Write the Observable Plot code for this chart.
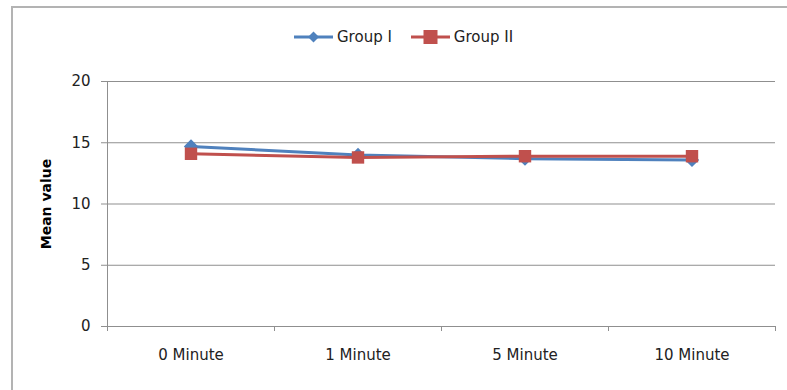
<!DOCTYPE html>
<html>
<head>
<meta charset="utf-8">
<script src="https://cdn.jsdelivr.net/npm/d3@7"></script>
<script src="https://cdn.jsdelivr.net/npm/@observablehq/plot@0.6"></script>
<style>
  html, body { margin: 0; padding: 0; background: #fff; }
  #chart { position: relative; width: 787px; height: 390px; overflow: hidden; font-family: "DejaVu Sans", sans-serif; }
  #frame { position: absolute; left: 11px; top: 6px; width: 790px; height: 400px; border-left: 2px solid #b3b3b3; border-top: 2px solid #b3b3b3; box-sizing: border-box; }
  #legend { position: relative; height: 60px; display: flex; justify-content: flex-start; align-items: center; padding-top: 14px; padding-left: 294px; box-sizing: border-box; font-size: 15px; color: #222; }
  #legend .item { display: flex; align-items: center; gap: 4px; margin-right: 19px; }
  #plot { position: relative; }
</style>
</head>
<body>
<div id="chart">
  <div id="frame"></div>
  <div id="legend"></div>
  <div id="plot"></div>
</div>
<script>
// Mean values at each time point
const categories = ["0 Minute", "1 Minute", "5 Minute", "10 Minute"];
const groupI = [14.7, 14.0, 13.7, 13.6];
const groupII = [14.1, 13.8, 13.9, 13.9];
const yTicks = [0, 5, 10, 15, 20];
const seriesNames = ["Group I", "Group II"];
const seriesColors = ["#4f81bd", "#c0504d"];

// long-format rows; x is the band centre (index + 0.5) on a 0..n scale
const rows = categories.flatMap((c, i) => [
  {x: i + 0.5, y: groupI[i], series: seriesNames[0]},
  {x: i + 0.5, y: groupII[i], series: seriesNames[1]}
]);
const bandEdges = d3.range(categories.length + 1);
const bandCenters = categories.map((c, i) => i + 0.5);

// legend
const legend = document.getElementById("legend");
seriesNames.forEach((name, k) => {
  const item = document.createElement("div");
  item.className = "item";
  const sw = k === 0
    ? `<svg width="39" height="16"><line x1="0" y1="8" x2="39" y2="8" stroke="${seriesColors[k]}" stroke-width="3"/><path d="M19.5 2.5 L25 8 L19.5 13.5 L14 8 Z" fill="${seriesColors[k]}"/></svg>`
    : `<svg width="39" height="16"><line x1="0" y1="8" x2="39" y2="8" stroke="${seriesColors[k]}" stroke-width="3"/><rect x="12.5" y="1" width="14" height="14" fill="${seriesColors[k]}"/></svg>`;
  item.innerHTML = sw + `<span>${name}</span>`;
  legend.appendChild(item);
});

const gridColor = "#8f8f8f";
const textColor = "#222";

const chart = Plot.plot({
  width: 787,
  height: 330,
  marginLeft: 107,
  marginRight: 12,
  marginTop: 21,
  marginBottom: 64,
  style: {fontFamily: "DejaVu Sans, sans-serif", fontSize: "15px", color: textColor, background: "transparent"},
  x: {domain: [0, categories.length]},
  y: {domain: [0, 20]},
  marks: [
    Plot.gridY(yTicks, {stroke: gridColor, strokeOpacity: 1, strokeWidth: 1}),
    Plot.ruleX([0], {stroke: gridColor, strokeWidth: 1}),
    Plot.axisY(yTicks, {tickSize: 6, tickPadding: 11, stroke: gridColor, color: textColor, label: null, fontSize: 15}),
    Plot.axisY({ticks: [], label: "Mean value", labelAnchor: "center", labelArrow: "none", labelOffset: 66, fontWeight: "bold", fontSize: 14, color: "#000"}),
    Plot.axisX(bandEdges, {tickSize: 5, stroke: gridColor, tickFormat: () => "", label: null}),
    Plot.axisX(bandCenters, {tickSize: 0, tickPadding: 23, tickFormat: d => categories[Math.round(d - 0.5)], label: null, fontSize: 15, color: textColor}),
    Plot.line(rows, {x: "x", y: "y", z: "series", stroke: "series", strokeWidth: 3}),
    Plot.dot(rows.filter(d => d.series === seriesNames[0]), {x: "x", y: "y", symbol: "diamond2", r: 5.5, fill: seriesColors[0], stroke: seriesColors[0]}),
    Plot.dot(rows.filter(d => d.series === seriesNames[1]), {x: "x", y: "y", symbol: "square", r: 7, fill: seriesColors[1], stroke: "none"})
  ],
  color: {domain: seriesNames, range: seriesColors}
});
document.getElementById("plot").appendChild(chart);
</script>
</body>
</html>
